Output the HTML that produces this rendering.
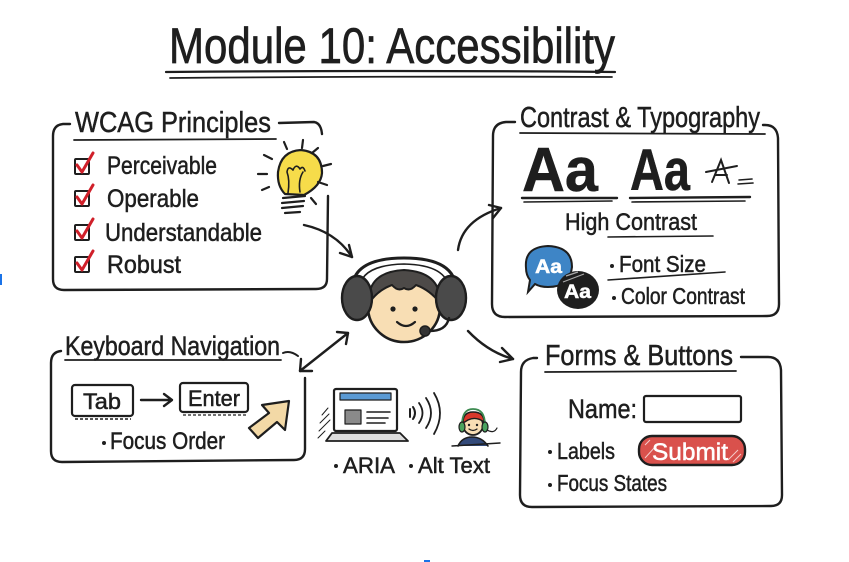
<!DOCTYPE html>
<html><head><meta charset="utf-8"><style>
html,body{margin:0;padding:0;background:#fff;}
svg{display:block;}
text{font-family:"Liberation Sans",sans-serif;fill:#1e1e1e;stroke:#1e1e1e;stroke-width:0.5;}
text.w{fill:#fff;stroke:#fff;}
text.b{stroke-width:0;}
</style></head><body>
<svg width="849" height="562" viewBox="0 0 849 562" xmlns="http://www.w3.org/2000/svg">
<rect width="849" height="562" fill="#fff"/>
<rect x="0" y="274" width="2" height="11" fill="#1a73e8"/>
<rect x="424" y="560" width="6" height="2" fill="#1a73e8"/>

<g fill="none" stroke="#1e1e1e" stroke-linecap="round" stroke-linejoin="round">
<!-- Title underline -->
<path d="M166,72 Q390,70 615,72" stroke-width="2.2"/>
<path d="M170,78 Q400,76 612,77" stroke-width="1.8"/>

<!-- WCAG box -->
<path d="M70,124 L63,124 Q53,125 53,136 L53,279 Q53,290 64,290 L316,289 Q327,289 327,279 L328,196" stroke-width="2.4"/>
<path d="M279,123 L314,122 Q321,123 322,134" stroke-width="2.4"/>
<path d="M74,140 L276,139" stroke-width="1.8"/>

<!-- Contrast box -->
<path d="M515,122 L506,122 Q493,123 493,136 L492,304 Q492,317 505,317 L767,316 Q779,316 779,304 L778,138 Q777,125 765,125 L763,125" stroke-width="2.4"/>
<path d="M520,133 L765,134" stroke-width="1.8"/>

<!-- Keyboard box -->
<path d="M61,351 Q51,352 51,363 L51,451 Q51,462 62,462 L294,460 Q305,460 305,449 L305,378" stroke-width="2.4"/>
<path d="M283,353 Q290,350 298,356" stroke-width="2"/>
<path d="M65,360 L281,360" stroke-width="1.8"/>

<!-- Forms box -->
<path d="M537,358 L533,358 Q521,360 521,372 L520,495 Q520,507 532,507 L771,506 Q782,506 782,495 L781,370 Q780,357 768,357 L741,357" stroke-width="2.4"/>
<path d="M545,372 L736,371" stroke-width="1.8"/>

<!-- Arrows -->
<path d="M304,225 Q336,232 352,257" stroke-width="2.4"/>
<path d="M340,253 L352,257 L349,245" stroke-width="2.4"/>
<path d="M458,250 Q462,220 501,208" stroke-width="2.4"/>
<path d="M489,205 L501,208 L493,218" stroke-width="2.4"/>
<path d="M468,331 Q488,352 513,359" stroke-width="2.4"/>
<path d="M502,348 L513,359 L500,362" stroke-width="2.4"/>
<path d="M348,333 L300,371" stroke-width="2.4"/>
<path d="M337,332 L348,333 L346,344" stroke-width="2.4"/>
<path d="M301,359 L300,371 L312,371" stroke-width="2.4"/>
</g>

<!-- Title -->
<text x="169" y="63" font-size="50" textLength="446" lengthAdjust="spacingAndGlyphs" style="stroke-width:0.7">Module 10: Accessibility</text>

<!-- WCAG -->
<text x="75" y="132" font-size="29" textLength="196" lengthAdjust="spacingAndGlyphs">WCAG Principles</text>
<g fill="none" stroke="#1e1e1e" stroke-width="2" stroke-linejoin="round">
<rect x="75" y="159" width="14" height="15" rx="1"/>
<rect x="75" y="191" width="14" height="15" rx="1"/>
<rect x="75" y="225" width="14" height="15" rx="1"/>
<rect x="75" y="257" width="14" height="15" rx="1"/>
</g>
<g fill="none" stroke="#d0202a" stroke-width="3" stroke-linecap="round" stroke-linejoin="round">
<path d="M77,165 L82,172 L93,153"/>
<path d="M77,197 L82,204 L93,185"/>
<path d="M77,231 L82,238 L93,219"/>
<path d="M77,263 L82,270 L93,251"/>
</g>
<text x="107" y="174" font-size="25" textLength="110" lengthAdjust="spacingAndGlyphs">Perceivable</text>
<text x="107" y="207" font-size="25" textLength="92" lengthAdjust="spacingAndGlyphs">Operable</text>
<text x="105" y="241" font-size="25" textLength="157" lengthAdjust="spacingAndGlyphs">Understandable</text>
<text x="107" y="273" font-size="25" textLength="74" lengthAdjust="spacingAndGlyphs">Robust</text>

<!-- Lightbulb -->
<g stroke="#1e1e1e" stroke-linecap="round" stroke-linejoin="round">
<path d="M285,194 Q277,186 278,172 Q281,151 301,150 Q322,152 322,173 Q321,186 304,195 Z" fill="#f6dc4a" stroke-width="2.2"/>
<path d="M288,193 Q290,180 287,172 M300,192 Q298,180 303,172 M287,172 Q288,165 293,170 Q296,163 300,169 Q303,165 305,171" fill="none" stroke-width="1.6"/>
<g stroke-width="2.2" fill="none">
<path d="M283,198 L305,196"/><path d="M282,203 L304,201"/><path d="M282,208 L303,206"/><path d="M285,213 L300,212"/>
<path d="M284,142 L287,149"/><path d="M303,140 L302,148"/><path d="M318,148 L312,153"/>
<path d="M264,155 L272,159"/><path d="M258,174 L267,174"/><path d="M262,190 L269,187"/>
<path d="M323,166 L331,164"/><path d="M318,182 L327,185"/><path d="M311,198 L316,204"/>
</g>
</g>

<!-- Contrast & Typography -->
<text x="520" y="127" font-size="29" textLength="240" lengthAdjust="spacingAndGlyphs">Contrast &amp; Typography</text>
<text x="522" y="191" font-size="62" font-weight="bold" textLength="76" lengthAdjust="spacingAndGlyphs">Aa</text>
<text x="630" y="190" font-size="58" font-weight="bold" textLength="60" lengthAdjust="spacingAndGlyphs">Aa</text>
<g fill="none" stroke="#1e1e1e" stroke-linecap="round">
<path d="M522,198 L617,198" stroke-width="2.4"/><path d="M524,202 L612,201" stroke-width="1.6"/>
<path d="M630,198 L750,197" stroke-width="2.4"/><path d="M632,202 L745,201" stroke-width="1.6"/>
<path d="M712,182 L721,160 L729,183 M715,175 L727,175 M706,172 L737,166" stroke-width="2"/>
<path d="M739,180 L752,179 M738,184 L753,183" stroke-width="1.6"/>
<path d="M608,237 L713,236" stroke-width="1.6"/>
<path d="M608,280 L725,272" stroke-width="1.6"/>
</g>
<text x="565" y="230" font-size="24" textLength="132" lengthAdjust="spacingAndGlyphs">High Contrast</text>
<path d="M526,268 Q524,247 548,246 Q572,247 572,267 Q570,287 548,287 Q540,287 535,284 L528,292 L530,280 Q526,275 526,268 Z" fill="#3e85c6" stroke="#1e1e1e" stroke-width="2"/>
<ellipse cx="578" cy="290" rx="21" ry="19" fill="#1e1e1e"/>
<path d="M566,276 L578,272 M563,282 L584,274" stroke="#aaa" stroke-width="1.2"/>
<text class="w" x="535" y="273" font-size="19" font-weight="bold" textLength="27" lengthAdjust="spacingAndGlyphs">Aa</text>
<text class="w" x="564" y="298" font-size="19" font-weight="bold" textLength="27" lengthAdjust="spacingAndGlyphs">Aa</text>
<circle cx="612" cy="266" r="2" fill="#1e1e1e"/>
<text x="619" y="272" font-size="23" textLength="87" lengthAdjust="spacingAndGlyphs">Font Size</text>
<circle cx="614" cy="298" r="2" fill="#1e1e1e"/>
<text x="621" y="304" font-size="23" textLength="124" lengthAdjust="spacingAndGlyphs">Color Contrast</text>

<!-- Central character -->
<g stroke="#1e1e1e" stroke-linecap="round" stroke-linejoin="round">
<path d="M352,290 Q352,258 404,258 Q456,258 456,290" fill="none" stroke-width="3"/>
<path d="M359,290 Q360,265 404,264 Q448,265 449,290" fill="none" stroke-width="1.6"/>
<ellipse cx="404" cy="307" rx="36" ry="35" fill="#f8deb4" stroke-width="2.6"/>
<path d="M369,303 Q367,272 404,270 Q441,272 440,303 Q430,290 416,285 Q410,292 404,288 Q398,292 392,285 Q378,290 369,303 Z" fill="#4d4a48" stroke-width="2"/>
<ellipse cx="357" cy="298" rx="15" ry="22" fill="#4a4a4a" stroke-width="2.4"/>
<ellipse cx="451" cy="298" rx="15" ry="22" fill="#4a4a4a" stroke-width="2.4"/>
<path d="M449,318 Q446,332 427,331" fill="none" stroke-width="2.4"/>
<circle cx="425" cy="331" r="5" fill="#333" stroke-width="1.5"/>
<circle cx="393" cy="309" r="2.6" fill="#1e1e1e" stroke="none"/>
<circle cx="415" cy="309" r="2.6" fill="#1e1e1e" stroke="none"/>
<path d="M397,322 Q406,330 415,322" fill="none" stroke-width="2.2"/>
</g>

<!-- Keyboard Navigation -->
<text x="65" y="355" font-size="27" textLength="215" lengthAdjust="spacingAndGlyphs">Keyboard Navigation</text>
<g fill="#fff" stroke="#1e1e1e" stroke-width="2.2" stroke-linejoin="round">
<rect x="72" y="385" width="61" height="31" rx="3"/>
<rect x="180" y="383" width="68" height="29" rx="3"/>
</g>
<path d="M75,419 L131,419" stroke="#1e1e1e" stroke-width="1.4" stroke-dasharray="3,2" fill="none"/>
<path d="M183,415 L246,415" stroke="#1e1e1e" stroke-width="1.2" stroke-dasharray="3,2" fill="none"/>
<text x="83" y="409" font-size="22" textLength="38" lengthAdjust="spacingAndGlyphs">Tab</text>
<text x="188" y="406" font-size="22" textLength="52" lengthAdjust="spacingAndGlyphs">Enter</text>
<path d="M141,400 L172,400 M164,394 L172,400 L164,406" stroke="#1e1e1e" stroke-width="2.4" fill="none" stroke-linecap="round" stroke-linejoin="round"/>
<path d="M289,401 L262,405 L269,413 L249,428 L258,438 L277,422 L285,430 Z" fill="#f3d9a6" stroke="#1e1e1e" stroke-width="2.2" stroke-linejoin="round"/>
<circle cx="104" cy="443" r="2" fill="#1e1e1e"/>
<text x="110" y="449" font-size="24" textLength="115" lengthAdjust="spacingAndGlyphs">Focus Order</text>

<!-- ARIA illustration -->
<g stroke="#1e1e1e" stroke-linecap="round" stroke-linejoin="round">
<rect x="334" y="389" width="63" height="42" rx="2" fill="#fff" stroke-width="2.2"/>
<rect x="340" y="393" width="51" height="7" fill="#5a9ad4" stroke-width="1.2"/>
<rect x="345" y="410" width="16" height="14" fill="#8a8a8a" stroke-width="1.2"/>
<path d="M367,412 L390,412 M367,418 L388,418 M367,423 L385,423" stroke-width="1.6" fill="none"/>
<path d="M332,433 L400,433 L408,441 L326,441 Z" fill="#ddd" stroke-width="1.8"/>
<path d="M322,415 L328,408 M320,423 L329,414 M319,431 L330,420 M318,438 L325,431" stroke-width="1" fill="none"/>
<path d="M410,409 L410,417 M413,407 Q417,413 413,419" stroke-width="2" fill="none"/>
<path d="M419,403 Q426,413 419,423 M426,398 Q436,413 426,428 M434,393 Q446,413 434,434" stroke-width="1.8" fill="none"/>
<path d="M458,446 Q462,437 472,437 Q482,437 488,446" fill="#334a7a" stroke-width="1.6"/>
<path d="M452,446 L500,443" stroke-width="1.4" fill="none"/>
<circle cx="473" cy="425" r="10" fill="#f8deb4" stroke-width="1.8"/>
<path d="M463,423 Q463,412 473,412 Q484,412 484,422 Q476,416 468,420 Z" fill="#d9382b" stroke-width="1.4"/>
<path d="M462,425 Q462,409 473,409 Q485,409 485,425" fill="none" stroke="#3c8a50" stroke-width="1.8"/>
<ellipse cx="462" cy="427" rx="3" ry="5" fill="#4aa35e" stroke-width="1.2"/>
<ellipse cx="485" cy="427" rx="3" ry="5" fill="#4aa35e" stroke-width="1.2"/>
<path d="M487,430 Q494,434 497,428" fill="none" stroke-width="1.2"/>
<circle cx="469" cy="425" r="1.2" fill="#1e1e1e" stroke="none"/>
<circle cx="477" cy="425" r="1.2" fill="#1e1e1e" stroke="none"/>
<path d="M469,429 Q473,432 477,429" fill="none" stroke-width="1.2"/>
</g>
<circle cx="336" cy="466" r="2" fill="#1e1e1e"/>
<text x="343" y="473" font-size="22" textLength="52" lengthAdjust="spacingAndGlyphs">ARIA</text>
<circle cx="411" cy="466" r="2" fill="#1e1e1e"/>
<text x="418" y="473" font-size="22" textLength="72" lengthAdjust="spacingAndGlyphs">Alt Text</text>

<!-- Forms & Buttons -->
<text x="545" y="365" font-size="29" textLength="188" lengthAdjust="spacingAndGlyphs">Forms &amp; Buttons</text>
<text x="568" y="418" font-size="27" textLength="69" lengthAdjust="spacingAndGlyphs">Name:</text>
<rect x="644" y="396" width="97" height="26" rx="2" fill="#fff" stroke="#1e1e1e" stroke-width="2.2"/>
<circle cx="550" cy="452" r="2" fill="#1e1e1e"/>
<text x="557" y="459" font-size="23" textLength="58" lengthAdjust="spacingAndGlyphs">Labels</text>
<rect x="639" y="436" width="106" height="29" rx="13" fill="#d9514c" stroke="#1e1e1e" stroke-width="2.4"/>
<path d="M645,445 L650,440 M645,458 L655,447 M728,460 L738,450 M733,462 L741,454" stroke="#fff" stroke-width="1" opacity="0.7"/>
<text class="w" x="652" y="460" font-size="24" textLength="76" lengthAdjust="spacingAndGlyphs">Submit</text>
<circle cx="550" cy="485" r="2" fill="#1e1e1e"/>
<text x="557" y="491" font-size="23" textLength="110" lengthAdjust="spacingAndGlyphs">Focus States</text>
</svg>
</body></html>
